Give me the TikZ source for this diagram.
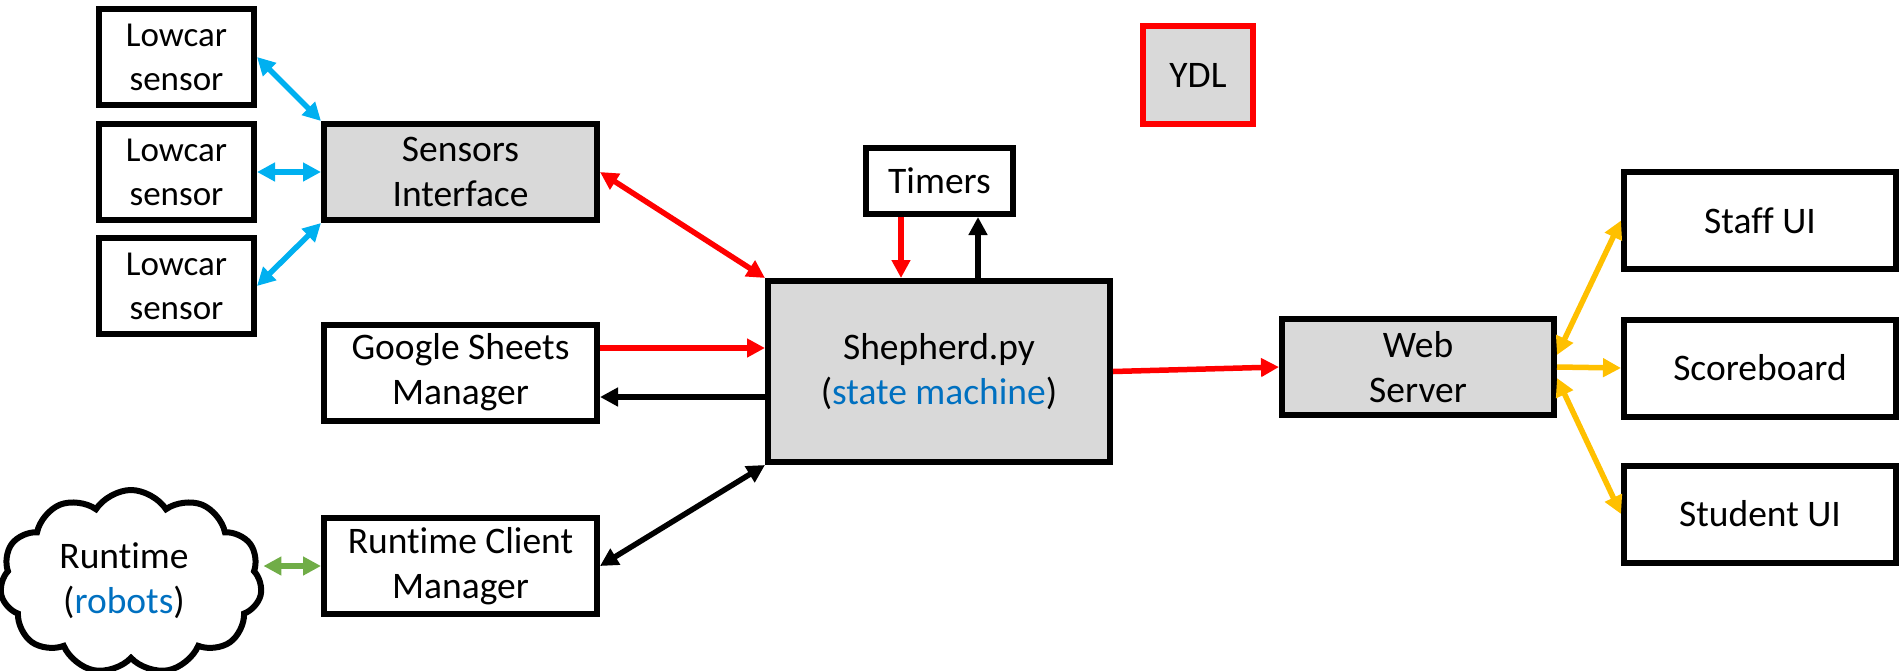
\documentclass[tikz,border=0pt]{standalone}
\usepackage{fontspec}
\setmainfont{Carlito}[Ligatures={NoCommon}]
\usetikzlibrary{shapes.symbols,arrows.meta,calc}
\definecolor{boxgray}{HTML}{D9D9D9}
\definecolor{cyanarr}{HTML}{00B0F0}
\definecolor{redarr}{HTML}{FF0000}
\definecolor{yelarr}{HTML}{FFC000}
\definecolor{grnarr}{HTML}{70AD47}
\definecolor{txtblue}{HTML}{0070C0}
\begin{document}
\begin{tikzpicture}[x=0.5pt,y=-0.5pt,
  box/.style={draw=black, line width=3pt, inner sep=0pt, align=center,
    font=\fontsize{18.75}{22.5}\selectfont},
  graybox/.style={box, fill=boxgray},
  lowcar/.style={box, minimum width=77.5pt, minimum height=48pt,
    font=\fontsize{17.5}{22}\selectfont},
  midbox/.style={box, minimum width=136.5pt, minimum height=48pt},
  uibox/.style={box, minimum width=136pt, minimum height=48.5pt},
  conn/.style={line width=2.75pt, -{Triangle[length=9pt,width=9pt]}},
  biconn/.style={line width=2.75pt,
    {Triangle[length=9pt,width=9pt]}-{Triangle[length=9pt,width=9pt]}},
]
\useasboundingbox (0,0) rectangle (1901,670);

% left column
\node[lowcar] (lc1) at (176.5,57) {Lowcar\\sensor};
\node[lowcar] (lc2) at (176.5,172) {Lowcar\\sensor};
\node[lowcar] (lc3) at (176.5,286) {Lowcar\\sensor};

% middle-left column
\node[midbox, fill=boxgray] (sens) at (460.5,172) {Sensors\\Interface};
\node[midbox] (gsm) at (460.5,372.5) {Google Sheets\\Manager};
\node[midbox] (rcm) at (460.5,566) {Runtime Client\\Manager};

% cloud
\node[draw=black, line width=3pt, cloud, cloud puffs=11, cloud puff arc=115,
  aspect=1.45, minimum width=131pt, minimum height=92pt, inner sep=0pt] (cloud) at (131,582) {};
\node[align=center, font=\fontsize{18.75}{22.5}\selectfont, inner sep=0pt] (cloudtxt) at (124,581)
  {Runtime\\(\textcolor{txtblue}{robots})};

% centre
\node[graybox, minimum width=171pt, minimum height=90.5pt] (shep) at (939,371.5)
  {Shepherd.py\\(\textcolor{txtblue}{state machine})};
\node[box, minimum width=73.5pt, minimum height=33pt] (timers) at (939.5,181) {Timers};
\node[graybox, draw=redarr, minimum width=55pt, minimum height=49pt] (ydl) at (1198,75) {YDL};

% right
\node[graybox, minimum width=136pt, minimum height=48pt] (web) at (1418,367) {Web\\Server};
\node[uibox] (staff) at (1760,220.5) {Staff UI};
\node[uibox] (score) at (1760,368) {Scoreboard};
\node[uibox] (student) at (1760,514) {Student UI};

% connectors
\draw[biconn, cyanarr] (lc1.east) -- (sens.north west);
\draw[biconn, cyanarr] (lc2.east) -- (sens.west);
\draw[biconn, cyanarr] (lc3.east) -- (sens.south west);

\draw[biconn, redarr] (sens.east) -- (shep.north west);
\coordinate (g1) at ($(gsm.east)+(0,-24.5)$);
\draw[conn, redarr] (g1) -- (g1 -| shep.west);
\coordinate (g2) at ($(shep.west)+(0,25.5)$);
\draw[conn, black] (g2) -- (g2 -| gsm.east);

\coordinate (t1) at ($(timers.south)+(-38.5,0)$);
\draw[conn, redarr] (t1) -- (t1 |- shep.north);
\coordinate (t2) at ($(timers.south)+(38.5,0)$);
\draw[conn, black] (t2 |- shep.north) -- (t2);

\draw[biconn, black] (rcm.east) -- (shep.south west);
\draw[biconn, grnarr] (rcm.west -| cloud.east) -- (rcm.west);

\draw[conn, redarr] (shep.east) -- (web.west);

\coordinate (w1) at ($(web.east)+(0,-12)$);
\coordinate (w3) at ($(web.east)+(0,11)$);
\draw[biconn, yelarr] (w1) -- (staff.west);
\draw[conn, yelarr] (web.east) -- (score.west);
\draw[biconn, yelarr] (w3) -- (student.west);
\end{tikzpicture}
\end{document}
